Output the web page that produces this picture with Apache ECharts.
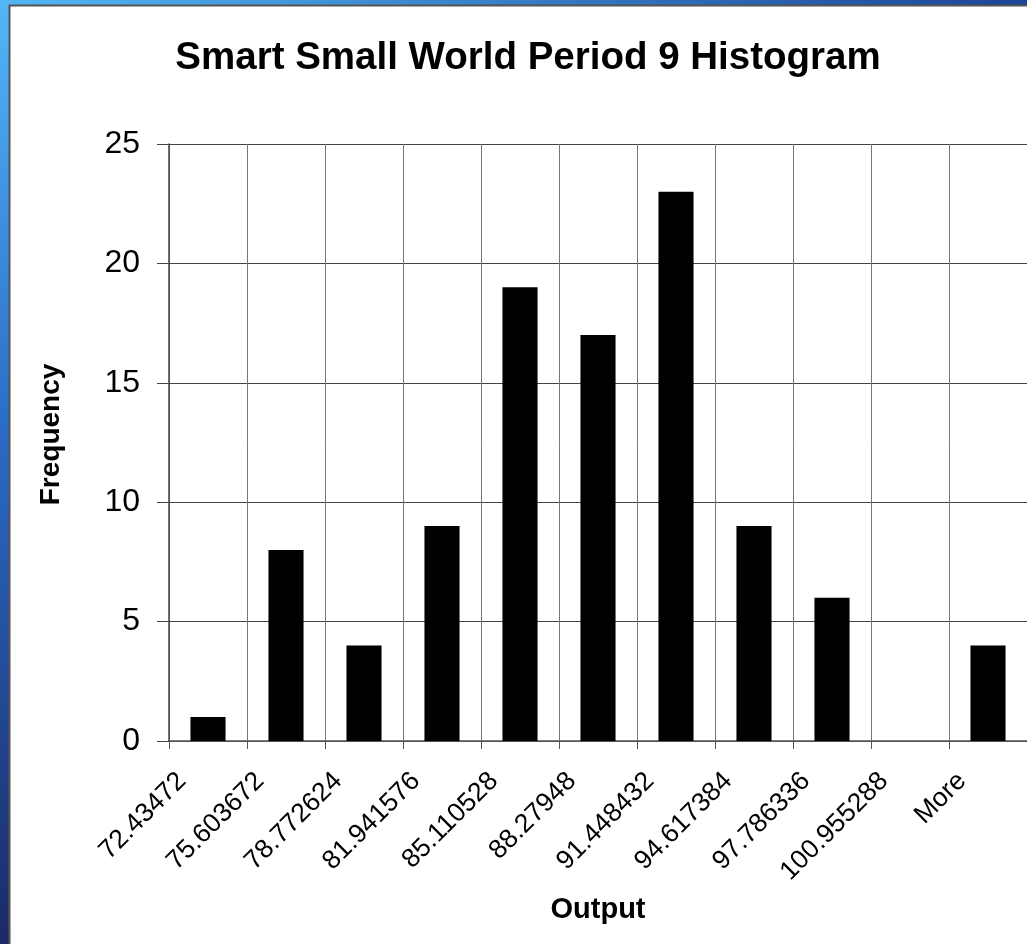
<!DOCTYPE html>
<html>
<head>
<meta charset="utf-8">
<script src="https://cdn.jsdelivr.net/npm/echarts@6/dist/echarts.min.js"></script>
<style>
html,body{margin:0;padding:0;background:#fff;}
#chart{width:1027px;height:944px;}
</style>
</head>
<body>
<div id="chart"></div>
<script>
const categories = ['72.43472','75.603672','78.772624','81.941576','85.110528','88.27948','91.448432','94.617384','97.786336','100.955288','More'];
const frequency = [1, 8, 4, 9, 19, 17, 23, 9, 6, 0, 4];
const yTicks = { min: 0, max: 25, interval: 5 };
const titleText = 'Smart Small World Period 9 Histogram';
const xName = 'Output';
const yName = 'Frequency';

const FONT = '"Liberation Sans", Arial, sans-serif';
const chart = echarts.init(document.getElementById('chart'), null, { renderer: 'canvas' });

const labelShift = 13;
chart.setOption({
  backgroundColor: '#ffffff',
  animation: false,
  graphic: [
    { type: 'rect', z: -10, silent: true, shape: { x: 0, y: 0, width: 1027, height: 6 },
      style: { fill: { type: 'linear', x: 0, y: 0, x2: 1, y2: 0, colorStops: [{ offset: 0, color: '#52b6f7' }, { offset: 1, color: '#1c4596' }] } } },
    { type: 'rect', z: -10, silent: true, shape: { x: 0, y: 0, width: 10, height: 944 },
      style: { fill: { type: 'linear', x: 0, y: 0, x2: 0, y2: 1, colorStops: [{ offset: 0, color: '#52b6f7' }, { offset: 0.45, color: '#2a6cc8' }, { offset: 1, color: '#1b2a66' }] } } },
    { type: 'rect', z: -9, silent: true, shape: { x: 9.5, y: 5.5, width: 1030, height: 950 },
      style: { fill: '#ffffff', stroke: '#555555', lineWidth: 2 } }
  ],
  title: {
    text: titleText,
    left: 523,
    top: 34,
    textAlign: 'center',
    textStyle: { fontFamily: FONT, fontSize: 38.5, fontWeight: 'bold', color: '#000' }
  },
  grid: [
    { left: 169, width: 858, top: 144, bottom: 203, containLabel: false, outerBoundsMode: 'none' },
    { left: 169 + labelShift, width: 858, top: 144, bottom: 203, containLabel: false, outerBoundsMode: 'none' }
  ],
  xAxis: [
    {
      type: 'category', gridIndex: 0, data: categories, boundaryGap: true,
      axisLine: { lineStyle: { color: '#555', width: 1.5 } },
      axisTick: { show: true, interval: 0, length: 8, lineStyle: { color: '#555' } },
      axisLabel: { show: false, interval: 0 },
      splitLine: { show: true, interval: 0, lineStyle: { color: '#777', width: 1 } },
      name: xName, nameLocation: 'middle', nameGap: 154,
      nameTextStyle: { fontFamily: FONT, fontSize: 29, fontWeight: 'bold', color: '#000' }
    },
    {
      type: 'category', gridIndex: 1, data: categories.concat(['']), boundaryGap: false,
      axisLine: { show: false }, axisTick: { show: false }, splitLine: { show: false },
      axisLabel: { show: true, interval: 0, rotate: 45, margin: 36, fontFamily: FONT, fontSize: 26.5, color: '#000' }
    }
  ],
  yAxis: [
    {
      type: 'value', gridIndex: 0, min: yTicks.min, max: yTicks.max, interval: yTicks.interval,
      axisLine: { show: true, lineStyle: { color: '#444', width: 1.5 } },
      axisTick: { show: true, length: 12, lineStyle: { color: '#444' } },
      axisLabel: { margin: 29, fontFamily: FONT, fontSize: 32, color: '#000' },
      splitLine: { show: true, lineStyle: { color: '#444', width: 1 } },
      name: yName, nameLocation: 'middle', nameGap: 104, nameRotate: 90,
      nameTextStyle: { fontFamily: FONT, fontSize: 28, fontWeight: 'bold', color: '#000', padding: [0, 0, 0, 16] }
    },
    { type: 'value', gridIndex: 1, show: false, min: 0, max: 25 }
  ],
  series: [{
    type: 'bar', xAxisIndex: 0, yAxisIndex: 0, data: frequency,
    barWidth: '45%',
    itemStyle: { color: '#000' }
  }]
});
</script>
</body>
</html>
